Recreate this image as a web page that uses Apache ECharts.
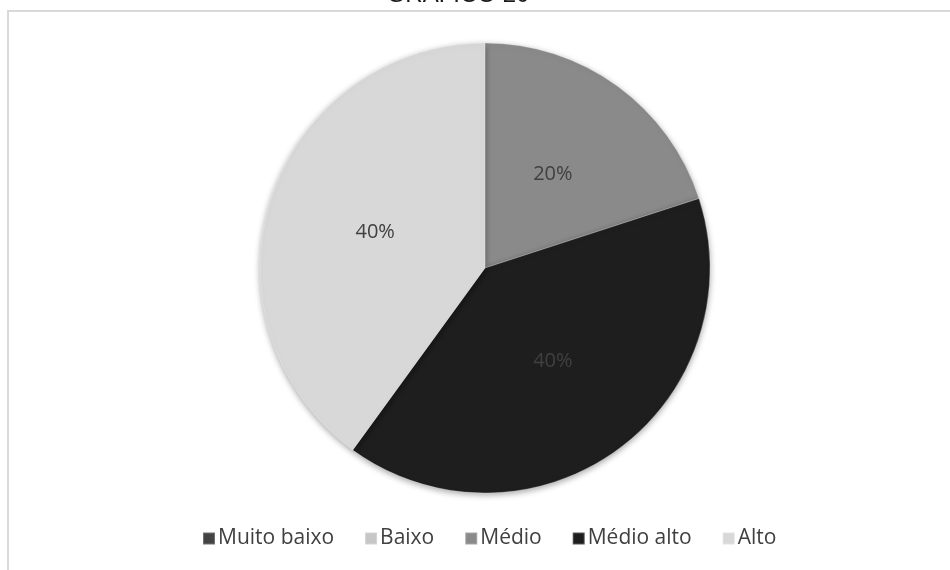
<!DOCTYPE html>
<html>
<head>
<meta charset="utf-8">
<script src="https://cdn.jsdelivr.net/npm/echarts@6/dist/echarts.min.js"></script>
<style>
  html, body { margin: 0; padding: 0; background: #fff; }
  #chart { width: 950px; height: 570px; }
</style>
</head>
<body>
<div id="chart"></div>
<script>
// Chart content
const chartTitle = 'GRÁFICO 20';
const categories = ['Muito baixo', 'Baixo', 'Médio', 'Médio alto', 'Alto'];
const values = [0, 0, 20, 40, 40];
const sliceColors = ['#434343', '#c6c6c6', '#8a8a8a', '#1e1e1e', '#d8d8d8'];

const chart = echarts.init(document.getElementById('chart'), null, { renderer: 'canvas' });

const pieData = categories.map((name, i) => ({
  name: name,
  value: values[i],
  itemStyle: { color: sliceColors[i] },
  label: { show: values[i] > 0 }
}));

const option = {
  backgroundColor: '#ffffff',
  animation: false,
  graphic: [
    {
      type: 'rect',
      shape: { x: 8, y: 11, width: 960, height: 600 },
      style: { fill: 'none', stroke: '#d9d9d9', lineWidth: 2 },
      silent: true
    },
    {
      type: 'text',
      x: 458,
      y: -17,
      z: 10,
      style: {
        text: chartTitle,
        font: '24px "Liberation Sans", Arial, sans-serif',
        fill: '#1a1a1a',
        align: 'center',
        verticalAlign: 'top'
      }
    }
  ],
  legend: {
    data: categories,
    bottom: 16,
    left: 197,
    icon: 'rect',
    itemWidth: 12,
    itemHeight: 12,
    itemGap: 30,
    textStyle: {
      fontFamily: '"Open Sans", "Liberation Sans", sans-serif',
      fontSize: 21,
      color: '#404040',
      padding: [0, 0, 0, -2]
    }
  },
  series: [
    {
      type: 'pie',
      center: [485, 268],
      radius: [0, 225],
      startAngle: 90,
      clockwise: true,
      avoidLabelOverlap: false,
      data: pieData,
      label: {
        position: 'inside',
        formatter: '{d}%',
        fontFamily: '"Open Sans", "Liberation Sans", sans-serif',
        fontSize: 20,
        color: '#404040'
      },
      labelLine: { show: false },
      itemStyle: {
        borderColor: 'rgba(255,255,255,0.25)',
        borderWidth: 1,
        shadowBlur: 6,
        shadowColor: 'rgba(0,0,0,0.35)',
        shadowOffsetY: 2
      },
      emphasis: { disabled: true }
    }
  ]
};

chart.setOption(option);
</script>
</body>
</html>
